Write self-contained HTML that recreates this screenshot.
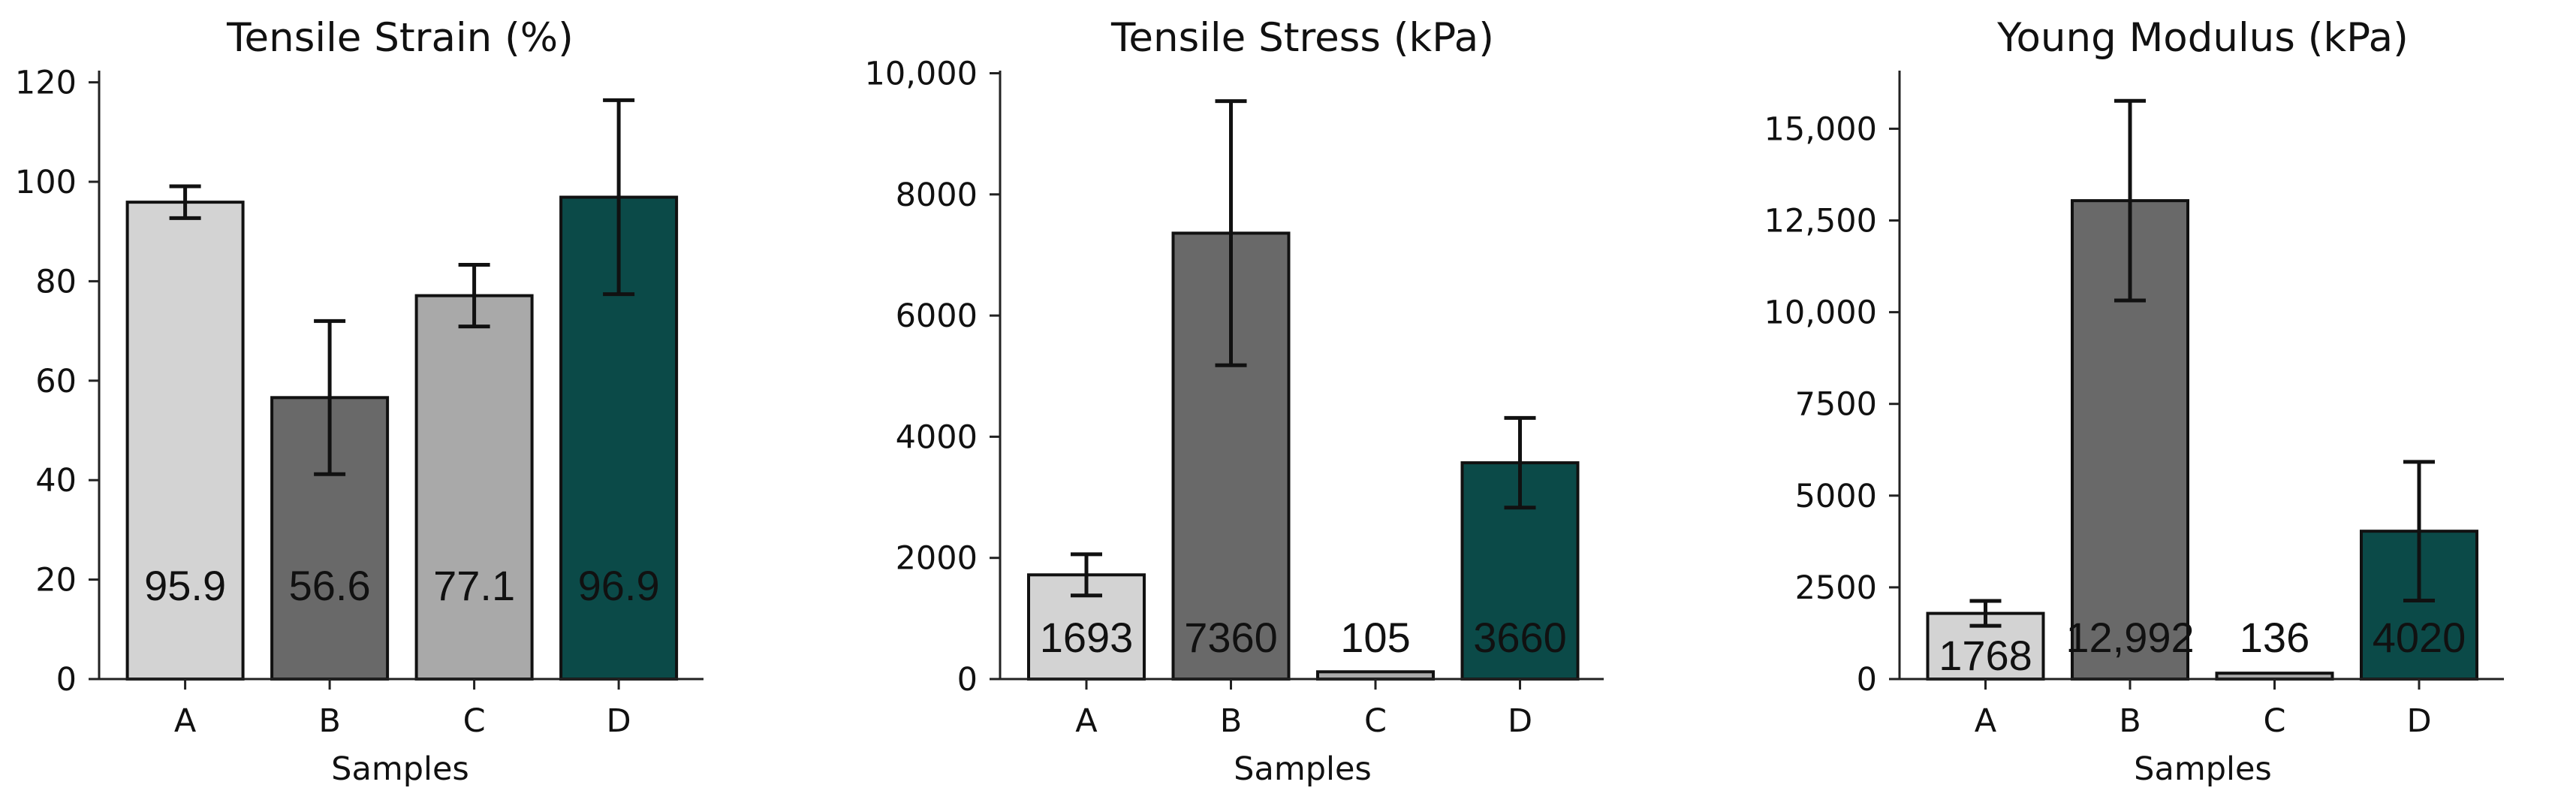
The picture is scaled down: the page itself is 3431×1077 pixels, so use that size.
<!DOCTYPE html>
<html><head><meta charset="utf-8"><style>
html,body{margin:0;padding:0;background:#fff;}
svg{display:block;font-family:"DejaVu Sans","Liberation Sans",sans-serif;}
</style></head><body>
<svg id="fig" width="3431" height="1077" viewBox="0 0 3431 1077" xmlns="http://www.w3.org/2000/svg"></svg>
<script>
const categories = ['A','B','C','D'];
const strainValues = [95.9, 56.6, 77.1, 96.9];
const strainErrors = [3.2, 15.4, 6.2, 19.5];
const strainLabels = ['95.9','56.6','77.1','96.9'];
const strainTicks = [0,20,40,60,80,100,120];
const strainTickLabels = ['0','20','40','60','80','100','120'];
const stressValues = [1720, 7360, 120, 3570];
const stressErrors = [340, 2180, 0, 740];
const stressLabels = ['1693','7360','105','3660'];
const stressTicks = [0,2000,4000,6000,8000,10000];
const stressTickLabels = ['0','2000','4000','6000','8000','10,000'];
const modulusValues = [1790, 13040, 160, 4030];
const modulusErrors = [340, 2720, 0, 1890];
const modulusLabels = ['1768','12,992','136','4020'];
const modulusTicks = [0,2500,5000,7500,10000,12500,15000];
const modulusTickLabels = ['0','2500','5000','7500','10,000','12,500','15,000'];
const barColors = ['#d3d3d3','#696969','#a9a9a9','#0b4a48'];

const NS='http://www.w3.org/2000/svg';
const svg=document.getElementById('fig');
function mk(tag,attrs,parent){const e=document.createElementNS(NS,tag);for(const k in attrs)e.setAttribute(k,attrs[k]);(parent||svg).appendChild(e);return e;}

function drawChart(cfg){
  const g=mk('g',{});
  
  
  const x0=cfg.axisX, y0=904, xEnd=cfg.axisEnd, step=192.5;
  const xs=i=>cfg.firstCenter+i*step;
  const ys=v=>y0-(v/cfg.unit)*cfg.unitPx;
  const bw=154;
  const t=mk('text',{x:cfg.titleX,y:68,'font-size':53,'text-anchor':'middle',fill:'#111'},g);
  t.textContent=cfg.title;
  
  
  cfg.values.forEach((v,i)=>{
    const r=mk('rect',{x:xs(i)-bw/2,y:ys(v),width:bw,height:y0-ys(v),fill:barColors[i],stroke:'#111','stroke-width':4},g);
    
    
  });
  cfg.values.forEach((v,i)=>{
    const e=cfg.errors[i]; if(!e) return;
    const eg=mk('g',{stroke:'#111','stroke-width':5},g);
    
    
    mk('line',{x1:xs(i),x2:xs(i),y1:ys(v+e),y2:ys(v-e)},eg);
    mk('line',{x1:xs(i)-21,x2:xs(i)+21,y1:ys(v+e),y2:ys(v+e)},eg);
    mk('line',{x1:xs(i)-21,x2:xs(i)+21,y1:ys(v-e),y2:ys(v-e)},eg);
  });
  cfg.labels.forEach((s,i)=>{
    const l=mk('text',{x:xs(i),y:cfg.labelY[i],'font-size':56,'text-anchor':'middle',fill:'#111','font-family':'Liberation Sans, sans-serif'},g);
    l.textContent=s;
    
    
  });
  const ax=mk('line',{x1:x0,x2:x0,y1:94,y2:y0+1.5,stroke:'#222','stroke-width':3},g);
  
  
  const bx=mk('line',{x1:x0-1.5,x2:xEnd,y1:y0,y2:y0,stroke:'#222','stroke-width':3},g);
  
  
  cfg.ticks.forEach((v,i)=>{
    mk('line',{x1:x0-14,x2:x0,y1:ys(v),y2:ys(v),stroke:'#222','stroke-width':3},g);
    const tl=mk('text',{x:x0-30,y:ys(v)+15,'font-size':43,'text-anchor':'end',fill:'#111'},g);
    tl.textContent=cfg.tickLabels[i];
    
    
  });
  categories.forEach((c,i)=>{
    mk('line',{x1:xs(i),x2:xs(i),y1:y0,y2:y0+14,stroke:'#222','stroke-width':3},g);
    const tl=mk('text',{x:xs(i),y:974,'font-size':43,'text-anchor':'middle',fill:'#111'},g);
    tl.textContent=c;
    
    
  });
  const xt=mk('text',{x:cfg.titleX,y:1038,'font-size':43,'text-anchor':'middle',fill:'#111'},g);
  xt.textContent='Samples';
  
  
}

drawChart({name:'tensile-strain-chart',title:'Tensile Strain (%)',titleX:533,axisX:132,axisEnd:937,firstCenter:246.6,unit:20,unitPx:132.4,
  values:strainValues,errors:strainErrors,labels:strainLabels,ticks:strainTicks,tickLabels:strainTickLabels,labelY:[799,799,799,799]});
drawChart({name:'tensile-stress-chart',title:'Tensile Stress (kPa)',titleX:1735,axisX:1332,axisEnd:2136,firstCenter:1447,unit:2000,unitPx:161.3,
  values:stressValues,errors:stressErrors,labels:stressLabels,ticks:stressTicks,tickLabels:stressTickLabels,labelY:[868,868,868,868]});
drawChart({name:'young-modulus-chart',title:'Young Modulus (kPa)',titleX:2934,axisX:2530,axisEnd:3335,firstCenter:2644.5,unit:2500,unitPx:122.1,
  values:modulusValues,errors:modulusErrors,labels:modulusLabels,ticks:modulusTicks,tickLabels:modulusTickLabels,labelY:[892,868,868,868]});
</script>
</body></html>
